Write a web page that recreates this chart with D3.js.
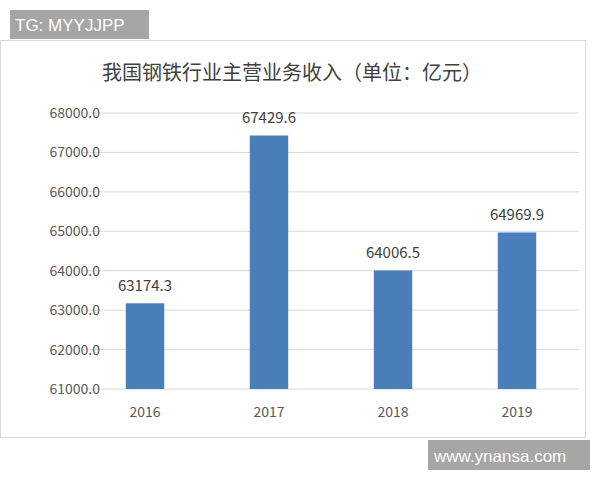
<!DOCTYPE html>
<html><head><meta charset="utf-8">
<script src="https://cdn.jsdelivr.net/npm/d3@7"></script>
<style>body{margin:0;background:#fff}</style></head>
<body><svg id="c" width="600" height="480"></svg>
<script>
const years = ["2016","2017","2018","2019"];
const revenue = [63174.3, 67429.6, 64006.5, 64969.9];
const yTicks = [61000,62000,63000,64000,65000,66000,67000,68000];
const title = "我国钢铁行业主营业务收入（单位：亿元）";

const svg = d3.select("#c");
const font = "'Noto Sans CJK SC', 'Noto Sans', sans-serif";
// chart frame
svg.append("rect").attr("x",0.5).attr("y",40.5).attr("width",585).attr("height",397)
  .attr("fill","#fff").attr("stroke","#d9d9d9");
const x = d3.scaleBand().domain(years).range([83,579]).paddingInner(0.69).paddingOuter(0.345);
const y = d3.scaleLinear().domain([61000,68000]).range([389,113]);
svg.append("g").selectAll("line").data(yTicks).join("line")
  .attr("x1",83).attr("x2",579).attr("y1",d=>y(d)).attr("y2",d=>y(d))
  .attr("stroke","#d9d9d9").attr("stroke-width",1);
const ax = svg.append("g").attr("transform","translate(100,0)")
  .call(d3.axisLeft(y).tickValues(yTicks).tickFormat(d3.format(".1f")).tickSize(0).tickPadding(0));
ax.select(".domain").remove();
ax.selectAll("text").attr("font-family",font).attr("font-size",14).attr("fill","#595959");
svg.append("g").selectAll("rect").data(revenue).join("rect")
  .attr("x",(d,i)=>x(years[i])).attr("width",x.bandwidth())
  .attr("y",d=>y(d)).attr("height",d=>y(61000)-y(d)).attr("fill","#4a7ebb");
svg.append("g").selectAll("text").data(revenue).join("text")
  .attr("x",(d,i)=>x(years[i])+x.bandwidth()/2).attr("y",d=>y(d)-12)
  .attr("text-anchor","middle").attr("font-family",font).attr("font-size",15).attr("fill","#404040")
  .text(d=>d.toFixed(1));
const xa = svg.append("g").attr("transform","translate(0,389)")
  .call(d3.axisBottom(x).tickSize(0).tickPadding(18));
xa.select(".domain").remove();
xa.selectAll("text").attr("font-family",font).attr("font-size",14).attr("fill","#595959");
svg.append("text").attr("x",292).attr("y",80).attr("text-anchor","middle")
  .attr("font-family",font).attr("font-size",20).attr("fill","#404040").text(title);
// watermarks
svg.append("rect").attr("x",10).attr("y",10).attr("width",139).attr("height",29).attr("fill","#a6a6a6");
svg.append("text").attr("x",15).attr("y",31).attr("font-family","'Liberation Sans', Arial, sans-serif")
  .attr("font-size",17).attr("fill","#fff").text("TG: MYYJJPP");
svg.append("rect").attr("x",428).attr("y",440).attr("width",162).attr("height",30).attr("fill","#a6a6a6");
svg.append("text").attr("x",434).attr("y",462).attr("font-family","'Liberation Sans', Arial, sans-serif")
  .attr("font-size",17).attr("fill","#fff").text("www.ynansa.com");
</script></body></html>
